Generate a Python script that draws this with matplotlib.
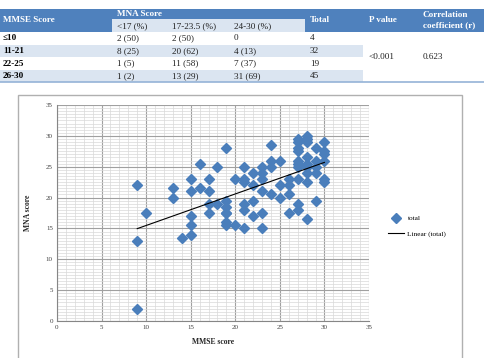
import matplotlib
matplotlib.use("Agg")
import matplotlib.pyplot as plt
from matplotlib.patches import Rectangle
from matplotlib.lines import Line2D
import numpy as np

plt.rcParams['font.family'] = ['Liberation Serif', 'DejaVu Serif']

# table data
row_labels = ["≤10", "11-21", "22-25", "26-30"]
mna_low = ["2 (50)", "8 (25)", "1 (5)", "1 (2)"]
mna_mid = ["2 (50)", "20 (62)", "11 (58)", "13 (29)"]
mna_high = ["0", "4 (13)", "7 (37)", "31 (69)"]
totals = ["4", "32", "19", "45"]
p_value = "<0.001"
corr_r = "0.623"

# scatter data (MMSE score, MNA score)
mmse = [9, 9, 9, 10, 13, 13, 14, 15, 15, 15, 15, 15, 16, 16, 17, 17, 17, 17,
        18, 18, 19, 19, 19, 19, 19, 19, 19, 20, 20, 21, 21, 21, 21, 21, 21,
        22, 22, 22, 22, 23, 23, 23, 23, 23, 23, 24, 24, 24, 24, 25, 25, 25,
        26, 26, 26, 26, 27, 27, 27, 27, 27, 27, 27, 27, 27, 27, 28, 28, 28,
        28, 28, 28, 28, 28, 28, 29, 29, 29, 29, 29, 30, 30, 30, 30, 30, 30]
mna = [22, 13, 2, 17.5, 21.5, 20, 13.5, 23, 21, 17, 15.5, 14, 25.5, 21.5, 23, 21, 19, 17.5,
       25, 19, 28, 19.5, 18.5, 17.5, 16, 15.5, 17.5, 23, 15.5, 25, 23, 22.5, 19, 18, 15,
       24, 22, 19.5, 17, 25, 24, 23, 21, 17.5, 15, 28.5, 26, 25, 20.5, 26, 22, 20,
       23, 22, 20.5, 17.5, 29.5, 29, 28, 27.5, 26, 25.5, 25, 23, 19, 18, 30, 29.5, 29,
       26.5, 25.5, 25, 24, 22.5, 16.5, 28, 26, 25, 24, 19.5, 29, 27.5, 27, 26, 23, 22.5]

W, H = 485, 358
fig = plt.figure(figsize=(W / 100, H / 100), dpi=100)


def fx(x):
    return x / W


def fy(y):
    return 1 - y / H


def box(x0, y0, x1, y1, color):
    fig.patches.append(Rectangle((fx(x0), fy(y1)), fx(x1) - fx(x0), fy(y0) - fy(y1),
                                 transform=fig.transFigure, facecolor=color,
                                 edgecolor='none', zorder=0))


def txt(x, y, s, **kw):
    fig.text(fx(x), fy(y), s, va='center', ha='left', fontsize=6.6, **kw)


dark = '#4f81bd'
light = '#dbe5f1'

# header
box(0, 9.5, W, 31.7, dark)
box(112, 19.5, 305, 31.7, light)
txt(3, 20.5, "MMSE Score", color='white', fontweight='bold')
txt(117, 14, "MNA Score", color='white', fontweight='bold')
txt(310, 20.5, "Total", color='white', fontweight='bold')
txt(369, 20.5, "P value", color='white', fontweight='bold')
txt(423, 15, "Correlation", color='white', fontweight='bold')
txt(423, 25.5, "coefficient (r)", color='white', fontweight='bold')
for xs, s in zip([117, 172, 234], ["<17 (%)", "17-23.5 (%)", "24-30 (%)"]):
    txt(xs, 26, s, color='#1f1f1f')

row_y = [38.5, 51, 63.5, 76]
for i, yy in enumerate(row_y):
    if i % 2 == 1:
        box(0, yy - 6.2, 363, yy + 6.2, light)
    txt(3, yy, row_labels[i], color='black', fontweight='bold')
    txt(117, yy, mna_low[i], color='#1f1f1f')
    txt(172, yy, mna_mid[i], color='#1f1f1f')
    txt(234, yy, mna_high[i], color='#1f1f1f')
    txt(310, yy, totals[i], color='#1f1f1f')
txt(369, 57.3, p_value, color='#1f1f1f')
txt(423, 57.3, corr_r, color='#1f1f1f')
fig.add_artist(Line2D([0, 1], [fy(82), fy(82)], color='#95b3d7', lw=1.2))

# chart frame
fig.patches.append(Rectangle((fx(18), fy(362)), fx(462) - fx(18), fy(94.5) - fy(362),
                             transform=fig.transFigure, facecolor='none',
                             edgecolor='#b0b0b0', lw=1.0, zorder=1))

ax = fig.add_axes([fx(57), fy(321), fx(369) - fx(57), fy(105) - fy(321)])
ax.set_xlim(0, 35)
ax.set_ylim(0, 35)
ax.set_xticks(np.arange(0, 36, 5))
ax.set_yticks(np.arange(0, 36, 5))
ax.set_xticks(np.arange(0, 36, 1), minor=True)
ax.set_yticks(np.arange(0, 35.5, 0.5), minor=True)
ax.grid(True, which='major', color='#a0a0a0', lw=0.8)
ax.grid(True, which='minor', color='#d9d9d9', lw=0.5)
ax.set_axisbelow(True)
for sp in ['top', 'right']:
    ax.spines[sp].set_visible(False)
for sp in ['left', 'bottom']:
    ax.spines[sp].set_color('#868686')
    ax.spines[sp].set_linewidth(0.8)
ax.tick_params(which='both', length=0)
ax.tick_params(which='major', labelsize=5, labelcolor='#404040', pad=3)

ax.plot(mmse, mna, 'D', color='#4a7ebb', ms=5, mec='#4a7ebb', label='total', zorder=3)
slope, inter = np.polyfit(mmse, mna, 1)
xs = np.array([min(mmse), max(mmse)])
ax.plot(xs, slope * xs + inter, color='black', lw=0.8, label='Linear (total)', zorder=4)

ax.set_xlabel("MMSE score", fontsize=5.5, fontweight='bold', color='#262626', labelpad=6)
ax.set_ylabel("MNA score", fontsize=5.5, fontweight='bold', color='#262626', labelpad=10)

leg = ax.legend(loc='center left', bbox_to_anchor=(1.04, 0.44), frameon=False,
                fontsize=5.2, handlelength=2.2, labelspacing=1.3, handletextpad=0.5)

fig.savefig("out.png", dpi=100, facecolor='white')
